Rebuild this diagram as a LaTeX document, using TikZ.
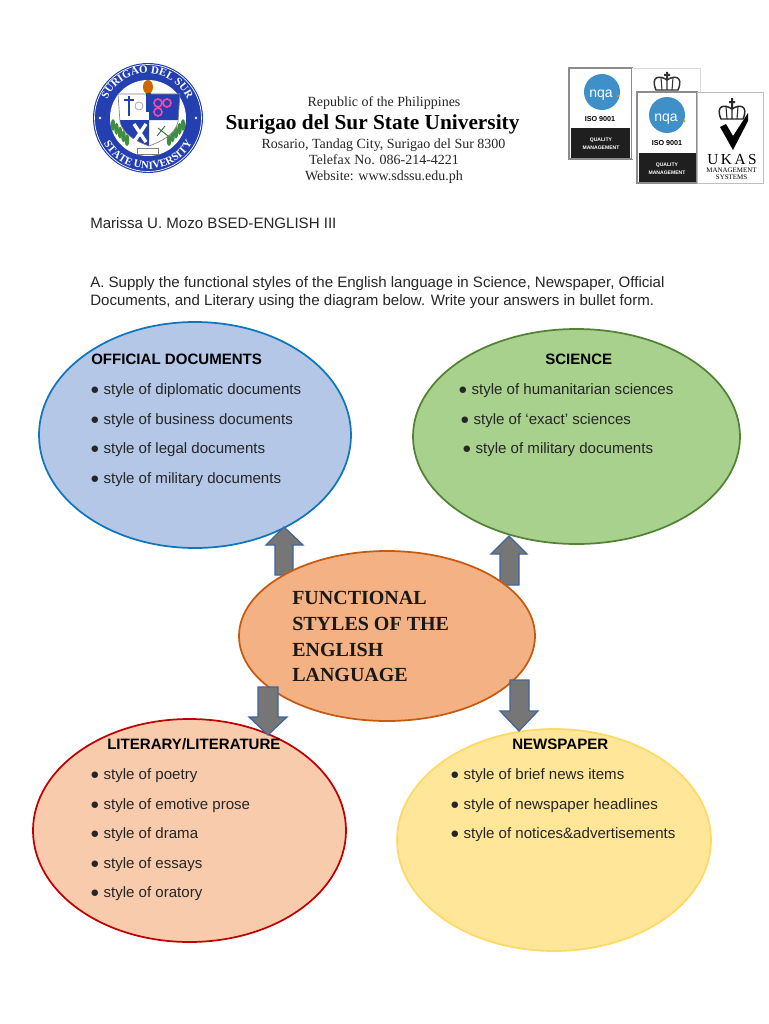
\documentclass[tikz,border=0pt]{standalone}
\usepackage{fontspec}
\setmainfont{Liberation Sans}
\newfontfamily\serifx{Liberation Serif}
\usetikzlibrary{decorations.text}
\definecolor{bluefill}{HTML}{B4C7E7}
\definecolor{blueline}{HTML}{0F75BC}
\definecolor{greenfill}{HTML}{A9D18E}
\definecolor{greenline}{HTML}{548235}
\definecolor{orangefill}{HTML}{F4B183}
\definecolor{orangeline}{HTML}{C55A11}
\definecolor{redfill}{HTML}{F8CBAD}
\definecolor{redline}{HTML}{C00000}
\definecolor{yellowfill}{HTML}{FFE699}
\definecolor{yellowline}{HTML}{FFD966}
\definecolor{arrowfill}{HTML}{767676}
\definecolor{arrowline}{HTML}{3F649E}
\definecolor{sealblue}{HTML}{2440B0}
\definecolor{nqablue}{HTML}{3F8FC8}
\definecolor{laurel}{HTML}{3E8E41}
\tikzset{
  x=0.75pt,y=-0.75pt,
  blob/.style={line width=1.3pt},
  blockarrow/.style={fill=arrowfill,draw=arrowline,line width=0.9pt,line join=miter},
  body/.style={anchor=base west,inner sep=0pt,font=\fontsize{11.3}{13}\selectfont,text=black!85},
  head/.style={anchor=base west,inner sep=0pt,font=\fontsize{11.3}{13}\selectfont\bfseries,text=black},
  hdr/.style={anchor=base,inner sep=0pt,font=\serifx\fontsize{10.5}{12}\selectfont,text=black!85},
  ctitle/.style={anchor=base west,inner sep=0pt,font=\serifx\fontsize{15}{16}\selectfont\bfseries,text=black!90},
  tiny/.style={anchor=base,inner sep=0pt,text=black},
  wtiny/.style={anchor=base,inner sep=0pt,text=white,font=\bfseries\fontsize{3.8}{4}\selectfont},
  cardframe/.style={draw=black!45,line width=0.9pt,fill=white},
}
\begin{document}
\begin{tikzpicture}
\useasboundingbox[fill=white] (0,0) rectangle (768,1024);

% seal
\fill[sealblue] (148,118) circle [radius=55];
\draw[white,line width=0.5pt] (148,118) circle [radius=53.5];
\fill[white] (148,118) circle [radius=38];
\path[postaction={decorate,decoration={text along path,text align=center,
  text={|\serifx\bfseries\fontsize{8.2}{9}\selectfont\color{white}|SURIGAO DEL SUR}}}]
  (104,125) arc [start angle=170,end angle=370,radius=44];
\path[postaction={decorate,decoration={text along path,text align=center,
  text={|\serifx\bfseries\fontsize{8.2}{9}\selectfont\color{white}|STATE UNIVERSITY}}}]
  (97,118) arc [start angle=180,end angle=0,radius=51];
\fill[white] (100,118) circle [radius=1.3] (196,118) circle [radius=1.3];
% laurel
\foreach \a in {0,1,2,3,4}{
  \fill[laurel] ({113+\a*3.5},{125+\a*3.8}) ellipse [x radius=2.2,y radius=6];
  \fill[laurel] ({183-\a*3.5},{125+\a*3.8}) ellipse [x radius=2.2,y radius=6];
}
% shield
\fill[white] (118,94) -- (180,94) -- (178,122) .. controls (175,135) and (160,142) .. (149,146)
  .. controls (138,142) and (123,135) .. (120,122) -- cycle;
\fill[sealblue] (149,94) -- (180,94) -- (178,120) -- (149,120) -- cycle;
\fill[sealblue] (120,120) -- (149,120) -- (149,146) .. controls (138,142) and (123,135) .. (120,122) -- cycle;
\draw[black!50,line width=0.5pt] (118,94) -- (180,94) -- (178,122) .. controls (175,135) and (160,142) .. (149,146)
  .. controls (138,142) and (123,135) .. (120,122) -- cycle;
\draw[white,line width=2.5pt] (134,124) -- (146,142) (146,124) -- (134,142);
\draw[magenta!70,line width=1.2pt] (158,103) circle [radius=4] (167,103) circle [radius=4] (158,112) circle [radius=4];
\draw[sealblue,line width=1pt] (129,96) -- (129,116) (124,100) -- (134,100);
\draw[black!35,line width=0.6pt] (139,106) circle [radius=4];
\draw[laurel!70!black,line width=0.6pt] (158,128) -- (168,136) (165,126) -- (157,136);
\fill[orange!80!black] (148,87) ellipse [x radius=5,y radius=7];
\fill[sealblue] (145.5,93) rectangle (150.5,112);
\fill[white] (137,148) rectangle (158,154);
\draw[black!50,line width=0.4pt] (137,148) rectangle (158,154);

% header text
\node[hdr] (rep) at (384,106) {Republic of the Philippines};
\node[anchor=base,inner sep=0pt,font=\serifx\bfseries\fontsize{16}{17}\selectfont] (uni) at (372.5,129) {Surigao del Sur State University};
\node[hdr] (addr) at (383.5,148) {Rosario, Tandag City, Surigao del Sur 8300};
\node[hdr] (tel) at (384,164) {Telefax No. 086-214-4221};
\node[hdr] (web) at (384,180) {Website: www.sdssu.edu.ph};

% certification marks, back card
\draw[cardframe] (569,68) rectangle (632,159);
\fill[black!88] (571,128) rectangle (630,158);
\fill[nqablue] (602,92) circle [radius=18];
\node[anchor=base,inner sep=0pt,text=white,font=\fontsize{10.5}{11}\selectfont] (nqa1) at (601,98) {nqa};
\fill[orange] (618,96) circle [radius=1.3];
\node[tiny,font=\bfseries\fontsize{5.4}{6}\selectfont] (iso1) at (600,121) {ISO 9001};
\node[wtiny] (q1) at (601,141) {QUALITY};
\node[wtiny] (m1) at (601,149) {MANAGEMENT};
\fill[white] (632,68) rectangle (700,159);
\draw[black!15,line width=0.5pt] (632,68) -- (700,68) -- (700,92);
\draw[black!80,line width=1.1pt,fill=white] (656,90) .. controls (650,76) and (660,75) .. (667,80) .. controls (674,75) and (684,76) .. (678,90) -- cycle;
\draw[black!80,line width=0.8pt] (667,80) -- (667,90) (661,78) .. controls (662,84) .. (662,90) (673,78) .. controls (672,84) .. (672,90);
\fill[black!80] (666,72) rectangle (668,80) (664,74) rectangle (670,76);
% front card
\draw[cardframe] (637,92) rectangle (697,183);
\fill[black!88] (639,153) rectangle (696,182);
\fill[nqablue] (667,115) circle [radius=18];
\node[anchor=base,inner sep=0pt,text=white,font=\fontsize{10.5}{11}\selectfont] (nqa2) at (666,121) {nqa};
\fill[orange] (684,121) circle [radius=1.3];
\node[tiny,font=\bfseries\fontsize{5.4}{6}\selectfont] (iso2) at (667,145) {ISO 9001};
\node[wtiny] (q2) at (667,166) {QUALITY};
\node[wtiny] (m2) at (667,174) {MANAGEMENT};
\draw[black!25,fill=white,line width=0.5pt] (697,92) rectangle (763,183);
\draw[black!85,line width=1.1pt,fill=white] (721,119) .. controls (715,105) and (725,104) .. (732,109) .. controls (739,104) and (749,105) .. (743,119) -- cycle;
\draw[black!85,line width=0.8pt] (732,109) -- (732,119) (726,107) .. controls (727,113) .. (727,119) (738,107) .. controls (737,113) .. (737,119);
\fill[black!85] (731,98) rectangle (733,109) (729,101) rectangle (735,103);
\fill[black] (720,127) -- (726,124) -- (733,136) -- (748,113) -- (748,121) -- (733,150) -- cycle;
\node[tiny,font=\serifx\fontsize{11.5}{12}\selectfont] (ukas) at (732,164) {U\,K\,A\,S};
\node[tiny,font=\serifx\fontsize{5.2}{6}\selectfont] (ms1) at (731.5,172) {MANAGEMENT};
\node[tiny,font=\serifx\fontsize{5.2}{6}\selectfont] (ms2) at (731.5,179) {SYSTEMS};

% intro text
\node[body] (name) at (90,228) {Marissa U. Mozo BSED-ENGLISH III};
\node[body] (q1l) at (90,287) {A. Supply the functional styles of the English language in Science, Newspaper, Official};
\node[body] (q2l) at (90,305) {Documents, and Literary using the diagram below. Write your answers in bullet form.};

% ellipses
\draw[blob,fill=bluefill,draw=blueline] (195,435) ellipse [x radius=156,y radius=113];
\draw[blob,fill=greenfill,draw=greenline] (576.5,436.5) ellipse [x radius=163.5,y radius=107.5];
\draw[blob,fill=redfill,draw=redline] (189.5,830.5) ellipse [x radius=156.5,y radius=111.5];
\draw[blob,fill=yellowfill,draw=yellowline] (554,840) ellipse [x radius=157,y radius=111];

% upward arrows, under the centre ellipse
\draw[blockarrow] (284,527) -- (303,545) -- (293,545) -- (293,575) -- (275,575) -- (275,545) -- (266,545) -- cycle;
\draw[blockarrow] (509,536) -- (527,554) -- (519,554) -- (519,585) -- (500,585) -- (500,554) -- (491,554) -- cycle;
% centre ellipse
\draw[blob,fill=orangefill,draw=orangeline] (387,636) ellipse [x radius=148,y radius=85];
% downward arrows, over it
\draw[blockarrow] (258,687) -- (278,687) -- (278,717) -- (287,717) -- (268,735) -- (249,717) -- (258,717) -- cycle;
\draw[blockarrow] (510,680) -- (529,680) -- (529,711) -- (538,711) -- (519,731) -- (500,711) -- (510,711) -- cycle;

% centre text
\node[ctitle] (c1) at (292,604) {FUNCTIONAL};
\node[ctitle] (c2) at (292,630) {STYLES OF THE};
\node[ctitle] (c3) at (292,656) {ENGLISH};
\node[ctitle] (c4) at (292,681) {LANGUAGE};

% official documents
\node[head] (od) at (91,364) {OFFICIAL DOCUMENTS};
\node[body] (od1) at (90,394) {● style of diplomatic documents};
\node[body] (od2) at (90,424) {● style of business documents};
\node[body] (od3) at (90,453) {● style of legal documents};
\node[body] (od4) at (90,483) {● style of military documents};

% science
\node[head] (sc) at (545,364) {SCIENCE};
\node[body] (sc1) at (458,394) {● style of humanitarian sciences};
\node[body] (sc2) at (460,424) {● style of ‘exact’ sciences};
\node[body] (sc3) at (462,453) {● style of military documents};

% literary
\node[head] (li) at (107,749) {LITERARY/LITERATURE};
\node[body] (li1) at (90,779) {● style of poetry};
\node[body] (li2) at (90,809) {● style of emotive prose};
\node[body] (li3) at (90,838) {● style of drama};
\node[body] (li4) at (90,868) {● style of essays};
\node[body] (li5) at (90,897) {● style of oratory};

% newspaper
\node[head] (ne) at (512,749) {NEWSPAPER};
\node[body] (ne1) at (450,779) {● style of brief news items};
\node[body] (ne2) at (450,809) {● style of newspaper headlines};
\node[body] (ne3) at (450,838) {● style of notices\&advertisements};
\end{tikzpicture}
\end{document}
